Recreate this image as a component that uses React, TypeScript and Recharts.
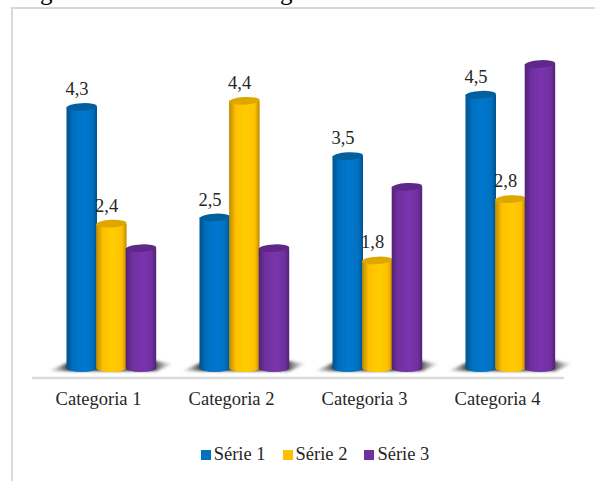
import { BarChart, Bar, XAxis, YAxis, Legend, LabelList } from "recharts";

const categories = ["Categoria 1", "Categoria 2", "Categoria 3", "Categoria 4"];
const serie1 = [4.3, 2.5, 3.5, 4.5];
const serie2 = [2.4, 4.4, 1.8, 2.8];
const serie3 = [2, 2, 3, 5];

const chartData = categories.map((name, i) => ({
  name,
  serie1: serie1[i],
  serie2: serie2[i],
  serie3: serie3[i],
}));

const FONT = "'Liberation Serif', 'Times New Roman', serif";
const TEXT = "#262626";
const SHIFT = 12.5; // cylinders sit a bit to the right of the category labels

const colors = [
  { id: "blue", main: "#0070C0", light: "#0078CE", dark: "#00528C", top: "#00609F" },
  { id: "yellow", main: "#FFC000", light: "#FFCC00", dark: "#BA8C00", top: "#DDA700" },
  { id: "purple", main: "#7030A0", light: "#7A34AE", dark: "#522375", top: "#5F2888" },
];

const Gradient = ({ c }: any) => (
  <linearGradient id={"grad-" + c.id} x1="0" y1="0" x2="1" y2="0">
    <stop offset="0%" stopColor={c.dark} />
    <stop offset="22%" stopColor={c.main} />
    <stop offset="55%" stopColor={c.light} />
    <stop offset="85%" stopColor={c.main} />
    <stop offset="100%" stopColor={c.dark} />
  </linearGradient>
);

const cylinder = (c: any, withShadow: boolean) => (props: any) => {
  const { x, y, width, height } = props;
  const x0 = x + SHIFT;
  const x1 = x0 + width + 0.5;
  const rx = (width + 0.5) / 2;
  const bottom = y + height - 3;
  return (
    <g>
      {withShadow && (
        <path
          d={`M${x0 - 17},${bottom + 3} L${x0},${bottom - 5} L${x0 + 90},${bottom - 7} L${x0 + 106},${bottom - 4} L${x0 + 90},${bottom + 3} Z`}
          fill="url(#shadow-fade)"
          filter="url(#shadow-blur)"
        />
      )}
      <path
        d={`M${x0},${y} L${x0},${bottom} A${rx},4 0 0 0 ${x1},${bottom} L${x1},${y} Z`}
        fill={`url(#grad-${c.id})`}
      />
      <ellipse
        cx={x0 + rx}
        cy={y}
        rx={rx}
        ry={3.8}
        fill={c.top}
        transform={`rotate(-3 ${x0 + rx} ${y})`}
      />
    </g>
  );
};

const valueLabel = (props: any) => {
  const { x, y, width, value } = props;
  return (
    <text
      x={x + width / 2 + 8}
      y={y - 12}
      textAnchor="middle"
      fill={TEXT}
      fontSize={18.5}
      fontFamily={FONT}
    >
      {String(value).replace(".", ",")}
    </text>
  );
};

const legendContent = (props: any) => (
  <div style={{ display: "flex", justifyContent: "center", fontFamily: FONT, fontSize: 18.5, color: TEXT }}>
    {props.payload.map((entry: any) => (
      <span key={entry.value} style={{ display: "flex", alignItems: "center", margin: "0 8.5px" }}>
        <span style={{ width: 10, height: 10, background: entry.color, marginRight: 3 }} />
        {entry.value}
      </span>
    ))}
  </div>
);

export default function App() {
  return (
    <div style={{ position: "absolute", left: 0, top: 0, width: 595, height: 481, overflow: "hidden", background: "#fff" }}>
      <span style={{ position: "absolute", left: 40, top: -22, fontFamily: FONT, fontSize: 25, color: "#000" }}>g</span>
      <span style={{ position: "absolute", left: 280, top: -22, fontFamily: FONT, fontSize: 25, color: "#000" }}>g</span>
      <div style={{ position: "absolute", left: 11, top: 7, width: 584, height: 474, borderLeft: "2px solid #D9D9D9", borderTop: "2px solid #D9D9D9" }} />
      <div style={{ position: "absolute", left: 0, top: 0 }}>
        <BarChart
          width={595}
          height={481}
          data={chartData}
          barSize={30}
          barGap={-0.4}
          barCategoryGap={0}
          margin={{ top: 64, right: 31, left: 32, bottom: 73 }}
        >
          <defs>
            {colors.map((c) => (
              <Gradient key={c.id} c={c} />
            ))}
            <linearGradient id="shadow-fade" x1="0" y1="0" x2="1" y2="0">
              <stop offset="0%" stopColor="#999" stopOpacity={0.25} />
              <stop offset="16%" stopColor="#333" stopOpacity={1} />
              <stop offset="84%" stopColor="#333" stopOpacity={1} />
              <stop offset="100%" stopColor="#999" stopOpacity={0.15} />
            </linearGradient>
            <filter id="shadow-blur" x="-20%" y="-100%" width="140%" height="300%">
              <feGaussianBlur stdDeviation="1.6" />
            </filter>
          </defs>
          <XAxis
            dataKey="name"
            height={30}
            tickLine={false}
            tickMargin={8}
            axisLine={{ stroke: "#D9D9D9", strokeWidth: 2.5 }}
            tick={{ fill: TEXT, fontSize: 18.5, fontFamily: FONT }}
            interval={0}
          />
          <YAxis hide domain={[-0.114, 5]} />
          <Legend
            layout="horizontal"
            verticalAlign="middle"
            align="center"
            content={legendContent}
            wrapperStyle={{ top: 444, left: 0, width: 630 }}
          />
          <Bar dataKey="serie1" name="Série 1" fill={colors[0].main} shape={cylinder(colors[0], true)} isAnimationActive={false}>
            <LabelList dataKey="serie1" content={valueLabel} />
          </Bar>
          <Bar dataKey="serie2" name="Série 2" fill={colors[1].main} shape={cylinder(colors[1], false)} isAnimationActive={false}>
            <LabelList dataKey="serie2" content={valueLabel} />
          </Bar>
          <Bar dataKey="serie3" name="Série 3" fill={colors[2].main} shape={cylinder(colors[2], false)} isAnimationActive={false} />
        </BarChart>
      </div>
    </div>
  );
}
